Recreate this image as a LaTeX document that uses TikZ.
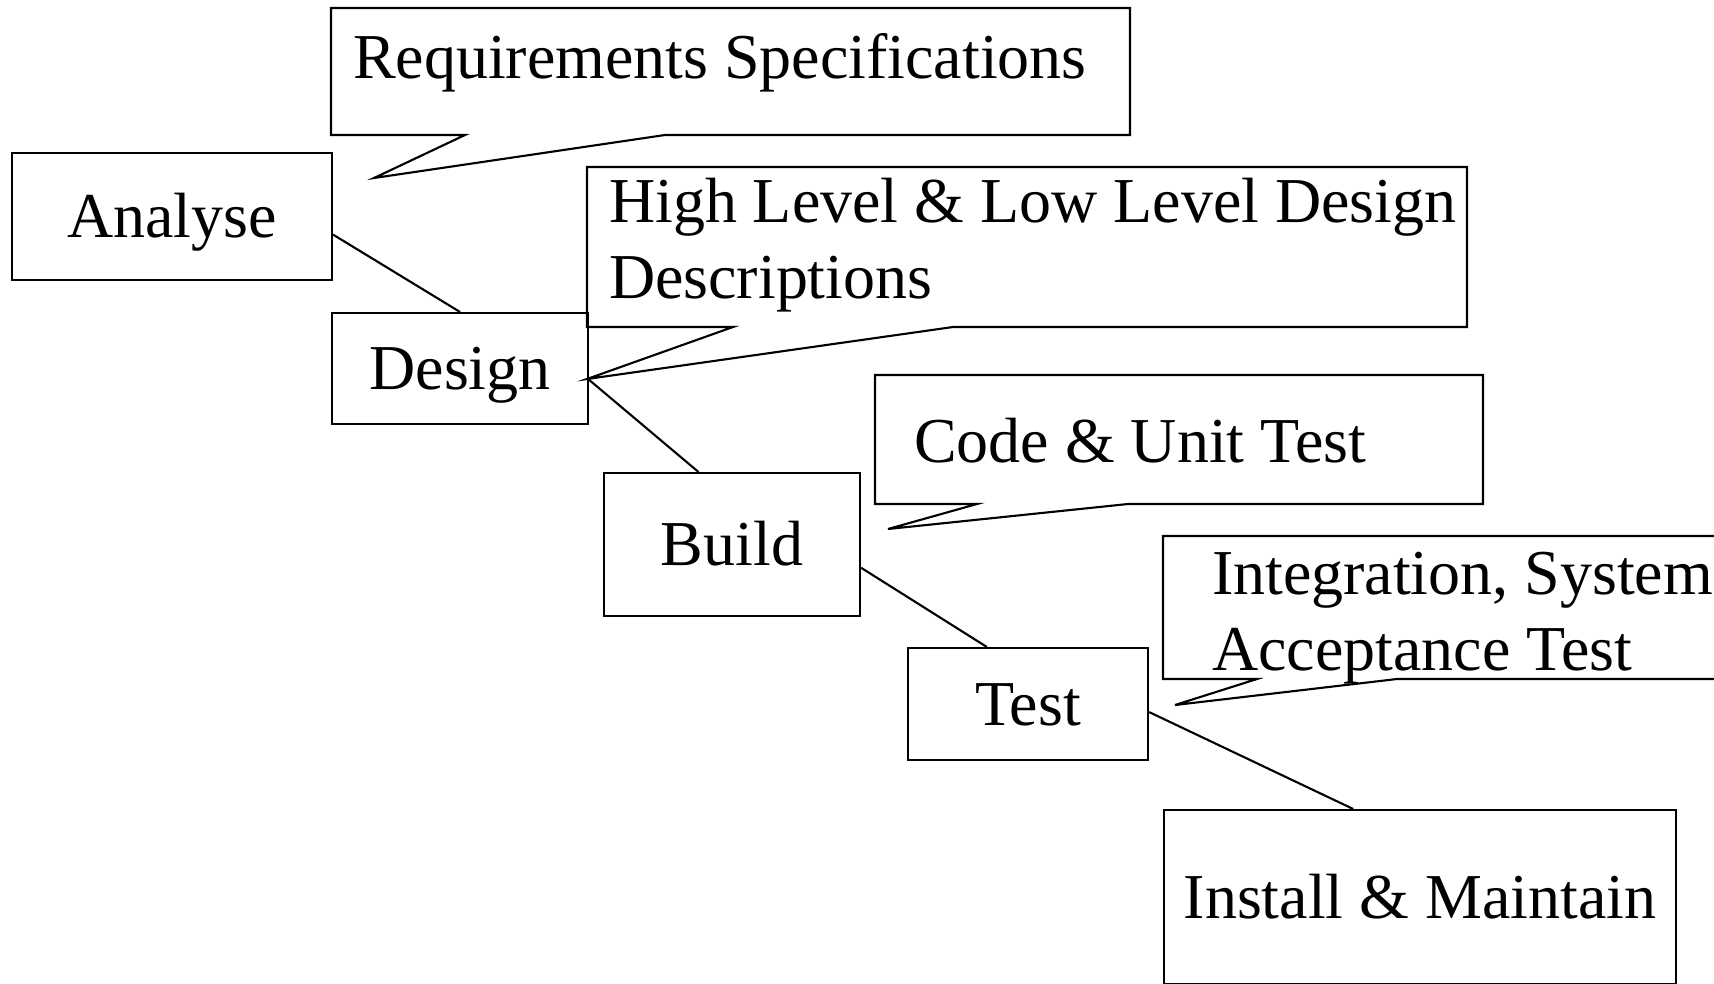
\documentclass[tikz,border=0pt]{standalone}
\usepackage{fontspec}
\setmainfont{Liberation Serif}
\usetikzlibrary{calc}

\begin{document}
\begin{tikzpicture}[x=1cm,y=-1cm,line width=0.6pt,
  every node/.style={font=\fontsize{18.2}{21.6}\selectfont},
  stage/.style 2 args={draw,anchor=north west,minimum width=#1cm,
    minimum height=#2cm,text height=0.46cm,text depth=0.04cm},
  note/.style={anchor=base west,inner sep=0pt,align=left}]

\clip (0,0) rectangle (17.14,9.84);

% phases
\node[stage={3.20}{1.27}] (analyse) at (0.11,1.52) {Analyse};
\node[stage={2.56}{1.11}] (design)  at (3.31,3.12) {Design};
\node[stage={2.56}{1.43}] (build)   at (6.03,4.72) {Build};
\node[stage={2.40}{1.12}] (test)    at (9.07,6.47) {Test};
\node[stage={5.12}{1.74}] (install) at (11.63,8.09) {Install \& Maintain};

% callouts (base anchor = last line)
\draw (3.31,0.08) -- (11.30,0.08) -- (11.30,1.35) -- (6.65,1.35)
  -- (3.74,1.78) -- (4.65,1.35) -- (3.31,1.35) -- cycle;
\node[note] (reqtext) at (3.52,0.78) {Requirements Specifications};

\draw (5.87,1.67) -- (14.67,1.67) -- (14.67,3.27) -- (9.53,3.27)
  -- (5.87,3.79) -- (7.33,3.27) -- (5.87,3.27) -- cycle;
\node[note] (hldtext) at (6.08,2.98) {High Level \& Low Level Design\\Descriptions};

\draw (8.75,3.75) -- (14.83,3.75) -- (14.83,5.04) -- (11.28,5.04)
  -- (8.88,5.29) -- (9.77,5.04) -- (8.75,5.04) -- cycle;
\node[note] (codetext) at (9.13,4.62) {Code \& Unit Test};

\draw (11.63,5.36) -- (18.00,5.36) -- (18.00,6.79) -- (13.97,6.79)
  -- (11.75,7.05) -- (12.57,6.79) -- (11.63,6.79) -- cycle;
\node[note] (testtext) at (12.11,6.70) {Integration, System \&\\Acceptance Test};

% links between phases
\draw ($(analyse.north east)!.64!(analyse.south east)$) -- (design.north);
\draw ($(design.north east)!.6!(design.south east)$)
  -- ($(build.north west)!.37!(build.north east)$);
\draw ($(build.north east)!.66!(build.south east)$)
  -- ($(test.north west)!.33!(test.north east)$);
\draw ($(test.north east)!.57!(test.south east)$)
  -- ($(install.north west)!.37!(install.north east)$);

\end{tikzpicture}
\end{document}
